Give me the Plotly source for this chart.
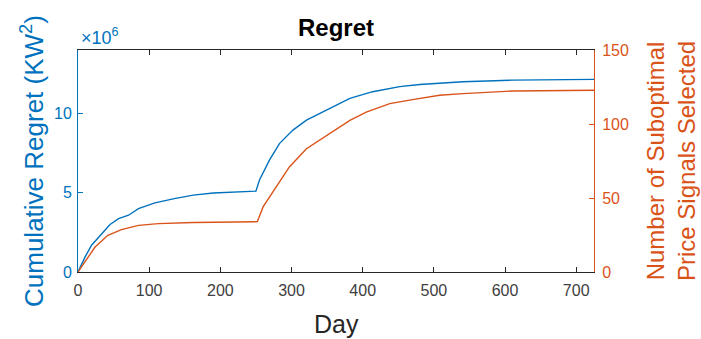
import plotly.graph_objects as go

# Cumulative regret (units of 1e6 KW^2) by day
regret_days = [0, 5, 10, 19, 33, 45, 57, 71, 85, 108, 137, 162, 190, 220, 250,
               255, 269, 283, 302, 321, 349, 382, 414, 452, 480, 508, 541, 611, 725]
regret_mkw2 = [0, 0.5, 0.95, 1.69, 2.43, 3.0, 3.37, 3.58, 4.0, 4.36, 4.64, 4.85, 4.98, 5.05, 5.1,
               5.8, 7.05, 8.1, 8.95, 9.58, 10.2, 10.95, 11.37, 11.69, 11.82, 11.9, 12.0, 12.1, 12.15]

# Number of suboptimal price signals selected by day
subopt_days = [0, 10, 24, 42, 61, 85, 113, 162, 250, 252, 260, 274, 297, 321, 349,
               382, 405, 438, 470, 508, 541, 611, 725]
subopt_count = [0, 6.8, 16.9, 24.8, 28.6, 31.5, 32.7, 33.4, 33.5, 34, 44, 54, 71, 83.3, 92.3,
                102.5, 108, 113.8, 116.5, 119.4, 120.5, 122.3, 122.8]

x_ticks = [0, 100, 200, 300, 400, 500, 600, 700]
left_ticks = [0, 5, 10]
right_ticks = [0, 50, 100, 150]

BLUE = "#0072BD"
ORANGE = "#D95319"
DARK = "#262626"
FONT = "Liberation Sans, Arial, sans-serif"

W, H = 701, 339
L, R, T, B = 78, 107, 50, 67
PW = W - L - R

fig = go.Figure()
fig.add_trace(go.Scatter(
    x=regret_days, y=[v * 1e6 for v in regret_mkw2], mode="lines",
    line=dict(color=BLUE, width=1.4), yaxis="y", showlegend=False))
fig.add_trace(go.Scatter(
    x=subopt_days, y=subopt_count, mode="lines",
    line=dict(color=ORANGE, width=1.4), yaxis="y2", showlegend=False))

fig.update_layout(
    width=W, height=H,
    margin=dict(l=L, r=R, t=T, b=B),
    paper_bgcolor="white", plot_bgcolor="white",
    font=dict(family=FONT, size=16, color=DARK),
    title=dict(text="<b>Regret</b>", x=(L + PW / 2) / W, xanchor="center",
               yref="container", y=1 - 28 / H, yanchor="middle",
               font=dict(family=FONT, size=24, color="black")),
    xaxis=dict(
        range=[0, 725], tickvals=x_ticks, ticktext=[str(t) for t in x_ticks],
        showline=True, linecolor=DARK, linewidth=1, mirror="ticks",
        ticks="inside", ticklen=5, tickcolor=DARK, showgrid=False, zeroline=False,
        tickfont=dict(color="#404040", size=16), ticklabelstandoff=4,
    ),
    yaxis=dict(
        range=[0, 14e6], tickvals=[t * 1e6 for t in left_ticks],
        ticktext=[str(t) for t in left_ticks],
        showline=True, linecolor=BLUE, linewidth=1,
        ticks="inside", ticklen=5, tickcolor=BLUE, showgrid=False, zeroline=False,
        tickfont=dict(color=BLUE, size=16), ticklabelstandoff=2,
    ),
    yaxis2=dict(
        range=[0, 150], tickvals=right_ticks, ticktext=[str(t) for t in right_ticks],
        overlaying="y", side="right",
        showline=True, linecolor=ORANGE, linewidth=1,
        ticks="inside", ticklen=5, tickcolor=ORANGE, showgrid=False, zeroline=False,
        tickfont=dict(color=ORANGE, size=16), ticklabelstandoff=4,
    ),
    annotations=[
        dict(text="×10<sup>6</sup>", xref="paper", yref="paper", x=0, y=1,
             xanchor="left", yanchor="bottom", xshift=1, yshift=0, showarrow=False,
             font=dict(family=FONT, size=18, color=BLUE)),
        dict(text="Day", xref="paper", yref="paper", x=0.5, y=0,
             xanchor="center", yanchor="top", yshift=-36, showarrow=False,
             font=dict(family=FONT, size=25, color=DARK)),
        dict(text="Cumulative Regret (KW<sup>2</sup>)", xref="paper", yref="paper",
             x=0, y=0.5, xanchor="center", yanchor="middle", xshift=-46,
             textangle=-90, showarrow=False,
             font=dict(family=FONT, size=26, color=BLUE)),
        dict(text="Number of Suboptimal<br>Price Signals Selected", xref="paper", yref="paper",
             x=1, y=0.5, xanchor="center", yanchor="middle", xshift=671 - (L + PW),
             textangle=-90, showarrow=False,
             font=dict(family=FONT, size=24, color=ORANGE)),
    ],
)

fig.write_html("out.html")
